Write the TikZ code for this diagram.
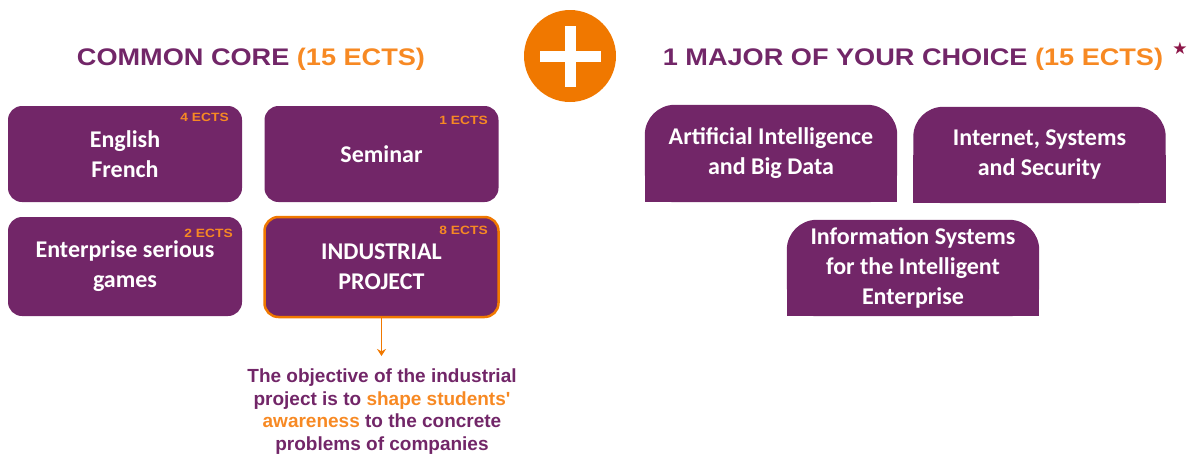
\documentclass[tikz,border=0pt]{standalone}
\usepackage{fontspec}
\usepackage{xcolor}
\usepackage{tikz}
\usetikzlibrary{arrows.meta,calc,positioning,backgrounds}

\newfontfamily\boxfont{Carlito}
\newfontfamily\headfont[FakeStretch=1.13]{Liberation Sans}
\newfontfamily\ectsfont[FakeStretch=1.15]{Liberation Sans}
\newfontfamily\notefont{Liberation Sans}
\newfontfamily\starfont{DejaVu Sans}

\definecolor{purp}{RGB}{114,38,104}
\definecolor{orng}{RGB}{240,120,0}
\definecolor{lorng}{RGB}{247,137,35}
\definecolor{starred}{RGB}{140,22,72}

\begin{document}
\begin{tikzpicture}[x=1pt,y=-1pt,line cap=round,line join=round,
  core/.style={fill=purp,text=white,rounded corners=14pt,inner sep=0pt,align=center,
    font=\boxfont\bfseries\fontsize{24}{30}\selectfont,minimum width=234pt},
  major/.style={text=white,inner sep=0pt,align=center,
    font=\boxfont\bfseries\fontsize{24}{30}\selectfont,minimum width=252pt,minimum height=97pt},
  ects/.style={anchor=east,inner sep=0pt,text=lorng,font=\ectsfont\bfseries\fontsize{12}{12}\selectfont},
  heading/.style={inner sep=0pt,text=purp,font=\headfont\bfseries\fontsize{24}{28}\selectfont}]
\useasboundingbox (0,0) rectangle (1196,456);

% headings
\node[heading] (corehd) at (251,59) {COMMON CORE {\color{lorng}(15 ECTS)}};
\node[heading] (majorhd) at (913,59) {1 MAJOR OF YOUR CHOICE {\color{lorng}(15 ECTS)}};
\node[inner sep=0pt,text=starred,font=\starfont\fontsize{17}{17}\selectfont] (star) at (1180,48) {★};

% the plus
\node[circle,fill=orng,minimum size=92pt,inner sep=0pt] (plus) at (570,56) {};
\fill[white] ($(plus)+(-30.5,-5.5)$) rectangle ($(plus)+(30.5,5.5)$);
\fill[white] ($(plus)+(-5.5,-30.5)$) rectangle ($(plus)+(5.5,30.5)$);

% common core
\node[core,minimum height=96pt] (lang) at (125,154) {English\\French};
\node[core,minimum height=96pt] (sem) at (381.5,154) {Seminar};
\node[core,minimum height=99pt] (game) at (125,266.5) {Enterprise serious\\games};
\node[core,minimum height=100pt,draw=orng,line width=2.5pt] (indus) at (381.5,267) {INDUSTRIAL\\PROJECT};
\node[ects] (e4) at (229,117.5) {4 ECTS};
\node[ects] (e1) at (488,120) {1 ECTS};
\node[ects] (e2) at (233,233) {2 ECTS};
\node[ects] (e8) at (488,230) {8 ECTS};

% majors
\node[major] (ai) at (771,153.5) {Artificial Intelligence\\and Big Data};
\node[major,minimum height=96pt] (iss) at (1039.5,155) {Internet, Systems\\and Security};
\node[major,minimum height=96pt] (isie) at (913,268) {Information Systems\\for the Intelligent\\Enterprise};
\begin{scope}[on background layer]
\foreach \m in {ai,iss,isie}{
  \fill[purp,rounded corners=30pt] (\m.south west) rectangle (\m.north east);
  \fill[purp] (\m.south west) rectangle (\m.east);
}
\end{scope}

% objective
\node[inner sep=0pt,align=center,text=purp,anchor=north,
  font=\notefont\bfseries\fontsize{19}{22.5}\selectfont] (goal) at (382,369)
  {The objective of the industrial\\project is to \textcolor{lorng}{shape students'}\\
   \textcolor{lorng}{awareness} to the concrete\\problems of companies};
\draw[orng,line width=1.8pt,-{Stealth[length=7pt,width=9pt]},shorten >=13pt] (indus.south) -- (indus.south |- goal.north);
\end{tikzpicture}
\end{document}
